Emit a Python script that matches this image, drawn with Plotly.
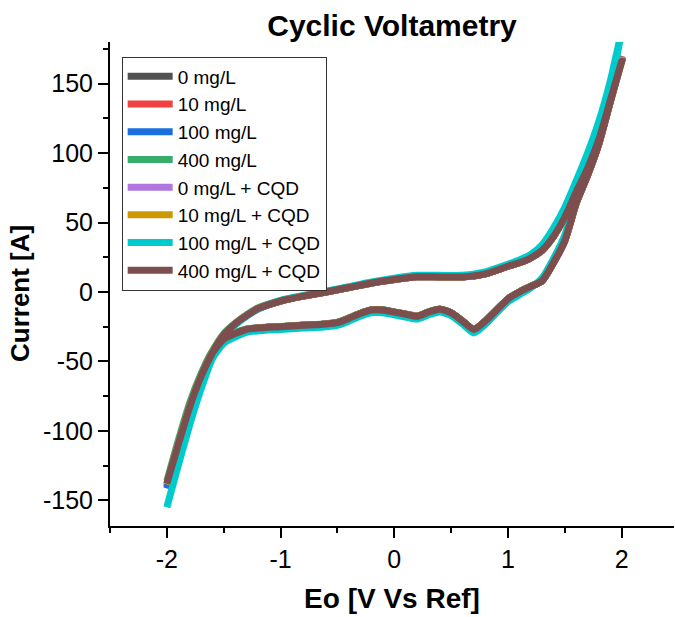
import plotly.graph_objects as go

# ---------------- data ----------------
SERIES_NAMES = ["0 mg/L", "10 mg/L", "100 mg/L", "400 mg/L",
                "0 mg/L + CQD", "10 mg/L + CQD", "100 mg/L + CQD", "400 mg/L + CQD"]
SERIES_COLORS = ["#515151", "#F14040", "#1A6FDF", "#37AD6B",
                 "#B177DE", "#CC9900", "#00CBCC", "#7D4E4E"]

# potential sweep: forward (-2 -> 2) then reverse (2 -> -2)
E_FWD = [-2.0, -1.9, -1.8, -1.7, -1.6, -1.5, -1.4, -1.3, -1.2, -1.0, -0.8, -0.6, -0.4, -0.2, 0.0,
         0.2, 0.4, 0.6, 0.8, 1.0, 1.1, 1.2, 1.3, 1.4, 1.5, 1.6, 1.7, 1.8, 1.9, 2.0]
E_REV = [1.9, 1.8, 1.7, 1.6, 1.5, 1.4, 1.3, 1.2, 1.1, 1.0, 0.9, 0.8, 0.7, 0.6, 0.5, 0.4, 0.3, 0.2,
         0.1, 0.0, -0.1, -0.2, -0.3, -0.4, -0.5, -0.6, -0.8, -1.0, -1.2, -1.3, -1.4, -1.5, -1.6,
         -1.7, -1.8, -1.9, -2.0]

I_0_FWD = [-140, -111, -84, -61.5, -44, -31, -23, -17, -12, -6.5, -3, 0, 3.2, 6.5, 9,
           11, 10.8, 10.8, 13, 18.5, 21, 24.5, 30, 40, 54, 72, 89, 110, 138, 168]
I_0_REV = [137, 107, 84, 64, 37, 21, 8, 4, 0, -5, -13, -21, -27, -21, -15, -12.5, -14.5, -17.5,
           -16, -14.5, -13, -13, -15.5, -19, -22, -23, -24, -25, -26, -27, -30, -34, -44,
           -61.5, -84, -111, -140]

I_10_FWD = [-140.5, -111, -84, -61.5, -44, -31, -23, -17, -12, -6.5, -3, 0, 3.2, 6.5, 9,
            11, 10.8, 10.8, 13, 18.5, 21, 24.5, 30, 40, 54, 72, 89.5, 111, 139, 170]
I_10_REV = [138, 107.5, 84, 64, 37, 21, 8, 4, 0, -5, -13, -21, -27, -21, -15, -12.5, -14.5, -17.5,
            -16, -14.5, -13, -13, -15.5, -19, -22, -23, -24, -25, -26, -27, -30, -34, -44,
            -61.5, -84, -111, -140.5]

I_100_FWD = [-141.5, -111.5, -84, -61.5, -44, -31, -23, -17, -12, -6.5, -3, 0, 3.2, 6.5, 9,
             11, 10.8, 10.8, 13, 18.5, 21, 24.5, 30, 40, 54, 72, 89.5, 110.5, 138.5, 169]
I_100_REV = [137.5, 107, 84, 64, 37, 21, 8, 4, 0, -5, -13, -21, -27, -21, -15, -12.5, -14.5, -17.5,
             -16, -14.5, -13, -13, -15.5, -19, -22, -23, -24, -25, -26, -27, -30, -34, -44,
             -61.5, -84, -111.5, -141.5]

I_400_FWD = [-136, -107, -80, -59, -42.5, -30, -22.5, -16.5, -11.5, -6.2, -2.8, 0.2, 3.4, 6.7, 9.2,
             11.2, 11, 11, 13.2, 18.8, 21.5, 25, 31, 41.5, 56, 74, 91, 112, 139, 167]
I_400_REV = [138, 108, 85, 65, 38, 22, 8.5, 4.2, 0.2, -4.8, -12.8, -20.8, -26.8, -20.8, -14.8,
             -12.3, -14.3, -17.3, -15.8, -14.3, -12.8, -12.8, -15.3, -18.8, -21.8, -22.8, -23.8,
             -24.8, -25.8, -26.6, -29.5, -33, -42.5, -59, -80, -107, -136]

I_0CQD_FWD = [-138.5, -110, -83, -61, -44, -31, -23, -17, -12, -6.5, -3, 0, 3.2, 6.5, 9,
              11, 10.8, 10.8, 13, 18.5, 21, 24.5, 30, 40, 54, 72, 89, 110, 138, 166.5]
I_0CQD_REV = [137, 107, 84, 64, 37, 21, 8, 4, 0, -5, -13, -21, -27, -21, -15, -12.5, -14.5, -17.5,
              -16, -14.5, -13, -13, -15.5, -19, -22, -23, -24, -25, -26, -27, -30, -34, -44,
              -61, -83, -110, -138.5]

I_10CQD_FWD = [-138.5, -110, -83, -61, -44, -31, -23, -17, -12, -6.5, -3, 0, 3.2, 6.5, 9,
               11, 10.8, 10.8, 13, 18.5, 21, 24.5, 30, 40, 54, 72, 89, 110, 138, 166]
I_10CQD_REV = [137, 107, 84, 64, 37, 21, 8, 4, 0, -5, -13, -21, -27, -21, -15, -12.5, -14.5, -17.5,
               -16, -14.5, -13, -13, -15.5, -19, -22, -23, -24, -25, -26, -27, -30, -34, -44,
               -61, -83, -110, -138.5]

I_100CQD_FWD = [-155, -125, -96, -70, -48, -34, -24, -17.5, -12.5, -6, -2.5, 0.5, 3.8, 7.2, 10,
                12, 12, 12, 14.5, 20, 23, 27, 34, 46, 61, 80, 100, 123, 152, 188]
I_100CQD_REV = [146, 114, 87, 68, 41, 24, 10, 3, -2, -7, -15, -23.5, -29.5, -23, -17, -14.5,
                -16.5, -19.5, -18, -16.5, -15, -15, -17.5, -21, -24, -25, -26, -27, -28, -29,
                -32.5, -37, -48, -70, -96, -125, -155]

I_400CQD_FWD = [-138, -110, -83, -61, -44, -31, -23, -17, -12, -6.5, -3, 0, 3.2, 6.5, 9,
                11, 10.8, 10.8, 13, 18.5, 21, 24.5, 30, 40, 54, 72, 89, 110, 138, 166]
I_400CQD_REV = [137, 107, 84, 64, 37, 21, 8, 4, 0, -5, -13, -21, -27, -21, -15, -12.5, -14.5,
                -17.5, -16, -14.5, -13, -13, -15.5, -19, -22, -23, -24, -25, -26, -27, -30, -34,
                -44, -61, -83, -110, -138]

X_TICKS = [-2, -1, 0, 1, 2]
X_TICK_LABELS = ["-2", "-1", "0", "1", "2"]
Y_TICKS = [-150, -100, -50, 0, 50, 100, 150]
Y_TICK_LABELS = ["-150", "-100", "-50", "0", "50", "100", "150"]

FWD_LIST = [I_0_FWD, I_10_FWD, I_100_FWD, I_400_FWD, I_0CQD_FWD, I_10CQD_FWD, I_100CQD_FWD, I_400CQD_FWD]
REV_LIST = [I_0_REV, I_10_REV, I_100_REV, I_400_REV, I_0CQD_REV, I_10CQD_REV, I_100CQD_REV, I_400CQD_REV]

# ---------------- figure ----------------
FONT = "Liberation Sans, Arial, sans-serif"

fig = go.Figure()
for name, color, fwd, rev in zip(SERIES_NAMES, SERIES_COLORS, FWD_LIST, REV_LIST):
    fig.add_trace(go.Scatter(
        x=E_FWD + E_REV, y=fwd + rev, mode="lines", name=name,
        line=dict(color=color, width=7, shape="spline", smoothing=0.6),
    ))

axis_common = dict(
    showline=True, linewidth=2, linecolor="black", mirror=False,
    showgrid=False, zeroline=False,
    ticks="outside", ticklen=10, tickwidth=2, tickcolor="black",
    tickfont=dict(family=FONT, size=25, color="black"),
    automargin=False,
)

fig.update_xaxes(
    range=[-2.5, 2.46], tickvals=X_TICKS, ticktext=X_TICK_LABELS,
    minor=dict(tickvals=[-2.5, -1.5, -0.5, 0.5, 1.5], ticks="outside", ticklen=5,
               tickwidth=2, tickcolor="black", showgrid=False),
    title=dict(text="<b>Eo [V Vs Ref]</b>", font=dict(family=FONT, size=28, color="black"),
               standoff=16),
    **axis_common,
)
fig.update_yaxes(
    range=[-168.5, 180], tickvals=Y_TICKS, ticktext=Y_TICK_LABELS,
    minor=dict(tickvals=[-175, -125, -75, -25, 25, 75, 125, 175], ticks="outside", ticklen=5,
               tickwidth=2, tickcolor="black", showgrid=False),
    **axis_common,
)

PLOT_TOP, PLOT_BOTTOM, PLOT_LEFT, PLOT_W = 42, 526, 110, 564

fig.update_layout(
    width=675, height=617,
    margin=dict(l=110, r=1, t=42, b=91),
    paper_bgcolor="white", plot_bgcolor="white",
    title=dict(text="<b>Cyclic Voltametry</b>", x=0.5, xref="paper", xanchor="center",
               y=1 - 25 / 617, yref="container", yanchor="middle",
               font=dict(family=FONT, size=30, color="black")),
    showlegend=True,
    legend=dict(x=0.0207, y=0.97, xanchor="left", yanchor="top",
                bgcolor="white", bordercolor="#333333", borderwidth=1,
                font=dict(family=FONT, size=19, color="black"),
                itemwidth=45, tracegroupgap=0),
    annotations=[dict(
        text="<b>Current [A]</b>", textangle=-90, showarrow=False,
        xref="paper", yref="paper",
        x=(20 - PLOT_LEFT) / PLOT_W, y=(PLOT_BOTTOM - 294) / (PLOT_BOTTOM - PLOT_TOP),
        xanchor="center", yanchor="middle",
        font=dict(family=FONT, size=26, color="black"),
    )],
)

fig.write_html("out.html")
